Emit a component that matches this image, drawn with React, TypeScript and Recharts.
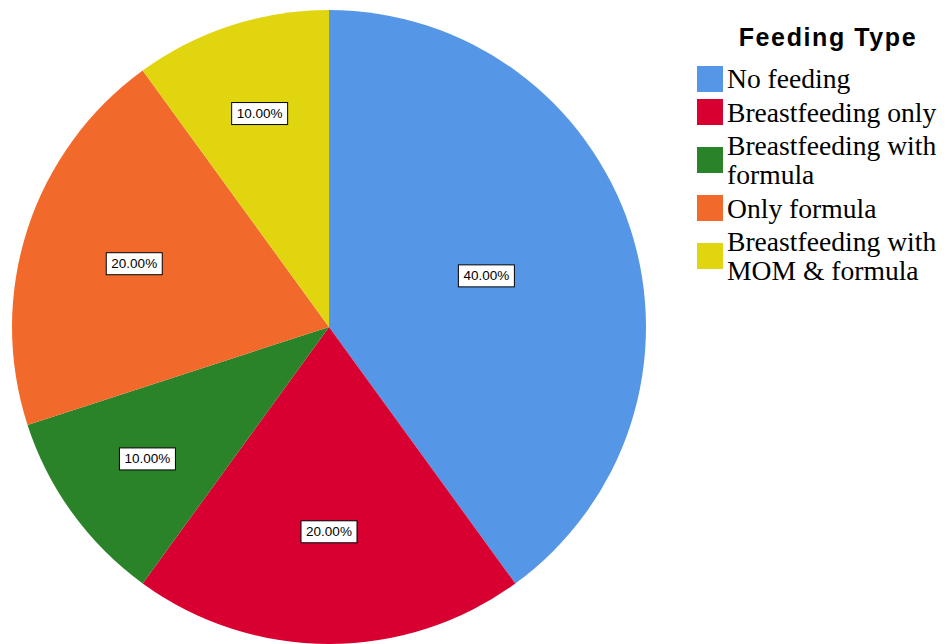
import { PieChart, Pie, Cell, Legend } from 'recharts';

const categories = [
  'No feeding',
  'Breastfeeding only',
  'Breastfeeding with formula',
  'Only formula',
  'Breastfeeding with MOM & formula',
];
const legendLines = [
  ['No feeding'],
  ['Breastfeeding only'],
  ['Breastfeeding with', 'formula'],
  ['Only formula'],
  ['Breastfeeding with', 'MOM & formula'],
];
const percents = [40, 20, 10, 20, 10];
const COLORS = ['#5597E6', '#D70031', '#2A8229', '#F26A2B', '#E1D50F'];

const data = categories.map((name, i) => ({ name, value: percents[i] }));

const RAD = Math.PI / 180;
const SERIF = "'Liberation Serif', Tinos, 'Times New Roman', serif";
const SANS = "'Liberation Sans', Arial, sans-serif";

// SPSS-style label: bigger slices pull the label nearer the centre
function SliceLabel(props: any) {
  const { cx, cy, midAngle, outerRadius, percent } = props;
  const r = outerRadius * (0.77 - 0.62 * percent);
  const x = cx + r * Math.cos(-midAngle * RAD);
  const y = cy + r * Math.sin(-midAngle * RAD);
  const w = 56;
  const h = 22;
  return (
    <g>
      <rect x={x - w / 2} y={y - h / 2} width={w} height={h} fill="#fff" stroke="#000" strokeWidth={1} />
      <text x={x} y={y + 1} textAnchor="middle" dominantBaseline="middle" fontSize={13.5} fontFamily={SANS} fill="#000">
        {(percent * 100).toFixed(2)}%
      </text>
    </g>
  );
}

function LegendBox() {
  return (
    <div style={{ width: 250 }}>
      <div style={{ textAlign: 'center', fontFamily: SANS, fontWeight: 'bold', fontSize: 25, letterSpacing: 1.6, lineHeight: '30px', marginLeft: 31, marginTop: 4, width: 200 }}>
        Feeding Type
      </div>
      <div style={{ marginTop: 12 }}>
        {legendLines.map((lines, i) => (
          <div key={i} style={{ display: 'flex', alignItems: 'center', marginBottom: 4.5 }}>
            <div style={{ width: 26, height: 26, background: COLORS[i], marginRight: 4, flexShrink: 0 }} />
            <div style={{ fontFamily: SERIF, fontSize: 27.6, lineHeight: '29px', color: '#000', whiteSpace: 'nowrap' }}>
              {lines.map((l, j) => <div key={j}>{l}</div>)}
            </div>
          </div>
        ))}
      </div>
    </div>
  );
}

export default function App() {
  return (
    <div style={{ position: 'absolute', left: 0, top: 0, width: 945, height: 644, background: '#fff' }}>
      <PieChart width={945} height={644} margin={{ top: 0, right: 0, bottom: 0, left: 0 }}>
        <Pie
          data={data}
          dataKey="value"
          nameKey="name"
          cx={329}
          cy={327}
          outerRadius={317}
          startAngle={90}
          endAngle={-270}
          stroke="none"
          label={SliceLabel}
          labelLine={false}
          isAnimationActive={false}
        >
          {data.map((_, i) => (
            <Cell key={i} fill={COLORS[i]} />
          ))}
        </Pie>
        <Legend
          content={<LegendBox />}
          wrapperStyle={{ position: 'absolute', left: 697, top: 18, width: 250 }}
        />
      </PieChart>
    </div>
  );
}
